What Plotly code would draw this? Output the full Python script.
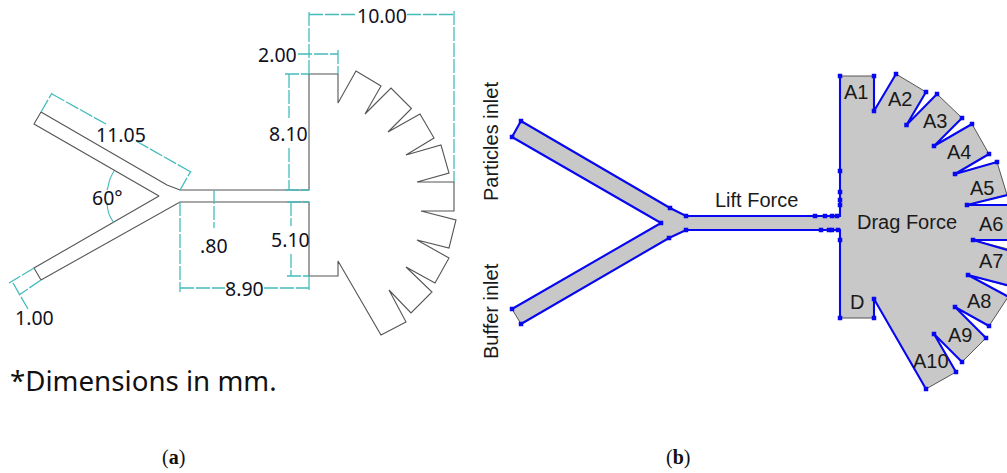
import plotly.graph_objects as go

# Left drawing: channel outline (image pixel units on the axes)
outline_x = [41,34,159,34,41,180,309,309,338,338,381,406,389,411,432,406,435,449,417,449,456,421,454,454,417,449,441,406,434,420,388,411.5,391,365,381,356,338,338,309,309,180,167,41]
outline_y = [112,124,196,268,280,202,202,276,276,261,335,322,290,313,292,267,283,258,240,248,220,211,211,182,182,173,145,155,138,114,132,108.5,88,114,86,71,103,74,74,190,190,185,112]
# Dimension lines
dim_x = [309,309,None,309,357,None,407,454,None,454,454,None,
         298,338,None,338,338,None,
         285,309,None,289,289,None,289,289,None,285,309,None,
         287,309,None,291,291,None,291,291,None,287,309,None,
         180,180,None,309,309,None,180,225,None,264,309,None,
         214,214,None,
         41,52,None,180,191,None,52,106,None,136,191,None,
         34,9,None,41,19,None,13,28]
dim_y = [74,11,None,14.5,14.5,None,14.5,14.5,None,11,182,None,
         54,54,None,50,74,None,
         74,74,None,74,118,None,148,190,None,190,190,None,
         202,202,None,202,226,None,254,276,None,276,276,None,
         202,292,None,276,292,None,288,288,None,288,288,None,
         190,228,None,
         112,93,None,190,171,None,94,124,None,141,172,None,
         268,283,None,280,295,None,283,309]
arc_x = [114,110,108,107,None,107,109,114]
arc_y = [171,179,187,190,None,204,214,223]

dim_labels = ["10.00","2.00","8.10","5.10","8.90",".80","11.05","60°","1.00"]
dim_label_x = [382,277,288,290,244,214,121,107,34]
dim_label_y = [15,54,133,239,288,245,134,197,317]

# Right drawing: filled domain
domain_x = [521,512,661,512,521,669,686,840,840,874,874,926,956,934,962,986,955,989,1008,968,1008,1012,973,1030,1030,967,1007,997,955,989,972,934,962,937,906.5,926,896,874,874,840,840,686,670,521]
domain_y = [121,137,223,309,324,238,230,230,318,318,299,389,372,334,362,338,307,326,297,275,286,250,240,240,205,205,195,162,174,154,124,146,118,94,125,92,74,111,76,76,216,216,208,121]
# Blue boundaries
blue_x = [512,521,670,686,840,840,None,512,661,512,None,521,669,686,840,840,None,
          874,874,896,None,926,906.5,937,None,962,934,972,None,989,955,997,None,1010,967,1020,None,
          1020,973,1020,None,1020,968,1020,None,989,955,986,None,962,934,956,None,926,874,874]
blue_y = [137,121,208,216,216,76,None,137,223,309,None,324,238,230,230,318,None,
          76,111,74,None,92,125,94,None,118,146,124,None,154,174,162,None,194.3,205,205,None,240,240,253.8,None,288.4,275,303,None,326,307,338,None,362,334,372,None,389,299,318]
node_x = [840,874,874,896,926,906.5,937,962,934,972,989,955,997,967,973,968,989,955,986,962,934,956,926,874,874,840,
          840,840,840,840,840,815,825,832,837,821,829,832,838,686,686,670,669,661,521,512,512,521]
node_y = [76,76,111,74,92,125,94,118,146,124,154,174,162,205,240,275,326,307,338,362,334,372,389,299,318,318,
          171,192,200,205,240,216,216,216,216,230,230,230,230,216,230,208,238,223,121,137,309,324]

force_labels = ["A1","A2","A3","A4","A5","A6","A7","A8","A9","A10","D","Drag Force","Lift Force"]
force_label_x = [856,900,935,959,982,991,991,979,960,931,857,907,756]
force_label_y = [92,99,121,152,188,224,261,301,335,361,302,222,200]
inlet_labels = ["Particles inlet","Buffer inlet"]
inlet_label_x = [491,491]
inlet_label_y = [142,311]

fig = go.Figure()
fig.add_trace(go.Scatter(x=outline_x, y=outline_y, mode="lines", line=dict(color="#555555", width=1.1)))
fig.add_trace(go.Scatter(x=dim_x, y=dim_y, mode="lines", line=dict(color="#45bcbc", width=1.3, dash="14px,2px")))
fig.add_trace(go.Scatter(x=arc_x, y=arc_y, mode="lines", line=dict(color="#45bcbc", width=1.1, shape="spline")))
fig.add_trace(go.Scatter(x=domain_x, y=domain_y, mode="lines", fill="toself", fillcolor="#c8c8c8", line=dict(color="#555555", width=1)))
fig.add_trace(go.Scatter(x=blue_x, y=blue_y, mode="lines", line=dict(color="#0808f0", width=2.1)))
fig.add_trace(go.Scatter(x=node_x, y=node_y, mode="markers", marker=dict(color="#0808f0", size=4.5, symbol="square")))

def labels(texts, xs, ys, font, color, **kw):
    for t, x, y in zip(texts, xs, ys):
        fig.add_annotation(x=x, y=y, text=t, showarrow=False, xanchor="center", yanchor="middle",
                           font=dict(family=font, size=kw.get("size", 20), color=color), textangle=kw.get("angle", 0))

labels(dim_labels, dim_label_x, dim_label_y, "Noto Sans", "#111122", size=19.5)
labels(force_labels, force_label_x, force_label_y, "Liberation Sans", "#1a1a1a", size=20)
labels(inlet_labels, inlet_label_x, inlet_label_y, "Liberation Sans", "#1a1a1a", size=20, angle=-90)
labels(["*Dimensions in mm."], [143], [380], "Noto Sans", "#111111", size=27.7)
labels(["(<b>a</b>)", "(<b>b</b>)"], [173, 678], [457, 457], "Liberation Serif", "#111111", size=20)

fig.update_layout(
    width=1007, height=473, margin=dict(l=0, r=0, t=0, b=0),
    paper_bgcolor="white", plot_bgcolor="white", showlegend=False,
    xaxis=dict(range=[0, 1007], visible=False, fixedrange=True),
    yaxis=dict(range=[473, 0], visible=False, fixedrange=True),
)
fig.write_html("out.html", config=dict(displayModeBar=False), post_script="document.body.style.margin='0';")
